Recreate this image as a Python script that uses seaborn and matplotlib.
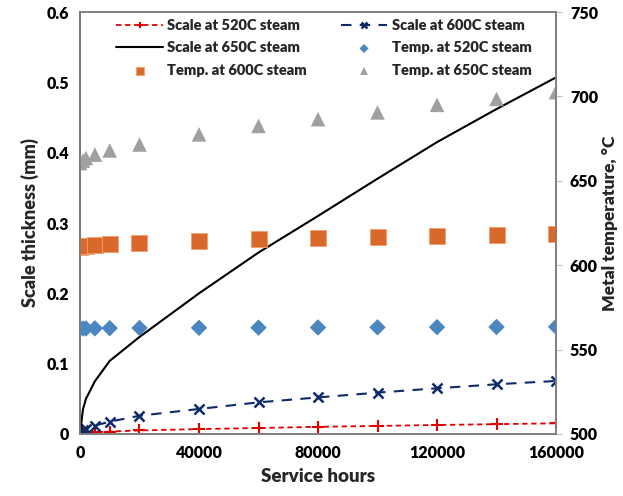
import matplotlib
matplotlib.use("Agg")
import matplotlib.pyplot as plt
import seaborn as sns
import pandas as pd

hours = [0, 1000, 2000, 5000, 10000, 20000, 40000, 60000, 80000, 100000, 120000, 140000, 160000]
scale_520 = [0, 0.001, 0.0015, 0.0025, 0.0035, 0.005, 0.007, 0.0085, 0.0102, 0.0115, 0.0128, 0.014, 0.0152]
scale_600 = [0, 0.005, 0.0075, 0.012, 0.0175, 0.026, 0.0356, 0.045, 0.052, 0.0588, 0.065, 0.0707, 0.0754]
scale_650 = [0, 0.035, 0.05, 0.075, 0.104, 0.138, 0.2, 0.258, 0.31, 0.363, 0.415, 0.462, 0.507]
temp_520 = [562.5, 562.5, 562.5, 562.6, 562.7, 562.8, 562.9, 563.0, 563.1, 563.2, 563.3, 563.4, 563.5]
temp_600 = [611, 611.3, 611.6, 612, 612.5, 613.2, 614.3, 615.4, 616.3, 617, 617.4, 617.8, 618.4]
temp_650 = [660.5, 662, 663.5, 665.5, 668, 671.5, 677.5, 682.5, 686.5, 690.5, 695, 698.5, 702.5]

x_ticks = [0, 40000, 80000, 120000, 160000]
y_ticks = [0, 0.1, 0.2, 0.3, 0.4, 0.5, 0.6]
y_tick_labels = ["0", "0.1", "0.2", "0.3", "0.4", "0.5", "0.6"]
t_ticks = [500, 550, 600, 650, 700, 750]

sns.set_style("white")
W = 800  # heavy weight, to match the heavy bold of the original
plt.rcParams['font.family'] = ['Lato', 'DejaVu Sans']
plt.rcParams['font.weight'] = W
plt.rcParams['axes.labelweight'] = W

df = pd.DataFrame({"hours": hours, "s520": scale_520, "s600": scale_600, "s650": scale_650,
                   "t520": temp_520, "t600": temp_600, "t650": temp_650})

fig = plt.figure(figsize=(6.23, 4.96), dpi=100)
ax = fig.add_axes([0.1284, 0.125, 0.7641, 0.8508])
ax2 = ax.twinx()

sns.lineplot(data=df, x="hours", y="s520", ax=ax, color="#E00000", linestyle=(0, (3, 2)), lw=1.3,
             marker="+", markersize=9, markeredgewidth=1.5, markeredgecolor="#E00000",
             sort=False, estimator=None, label="Scale at 520C steam")
sns.lineplot(data=df, x="hours", y="s600", ax=ax, color="#0D2A6B", linestyle=(0, (5, 4)), lw=1.5,
             marker="x", markersize=7, markeredgewidth=1.8, markeredgecolor="#0D2A6B",
             sort=False, estimator=None, label="Scale at 600C steam")
sns.lineplot(data=df, x="hours", y="s650", ax=ax, color="black", lw=1.5, sort=False, estimator=None,
             label="Scale at 650C steam")

sns.scatterplot(data=df, x="hours", y="t520", ax=ax2, color="#4A86C0", marker="D", s=70, edgecolor="none",
                label="Temp. at 520C steam")
sns.scatterplot(data=df, x="hours", y="t600", ax=ax2, color="#D9692A", marker="s", s=130, edgecolor="#F0A070",
                linewidth=0.6, label="Temp. at 600C steam")
sns.scatterplot(data=df, x="hours", y="t650", ax=ax2, color="#A0A0A0", marker="^", s=110, edgecolor="none",
                label="Temp. at 650C steam")

ax.set_xlim(0, 160000)
ax.set_ylim(0, 0.6)
ax2.set_ylim(500, 750)
ax.set_xticks(x_ticks)
ax.set_xticklabels([str(v) for v in x_ticks])
ax.set_yticks(y_ticks)
ax.set_yticklabels(y_tick_labels)
ax2.set_yticks(t_ticks)

for a in (ax, ax2):
    for sp in a.spines.values():
        sp.set_color("#7F7F7F")
        sp.set_linewidth(1.2)
    a.tick_params(labelsize=11.5, length=0, colors="black")
    for lab in a.get_xticklabels() + a.get_yticklabels():
        lab.set_fontweight(W)
ax2.tick_params(axis="y", length=4, color="#BFBFBF", width=0.8, direction="out", pad=6)
ax.tick_params(axis="x", pad=8)
ax.tick_params(axis="y", pad=8)
ax.spines["left"].set_color("#404040")

ax.set_xlabel("Service hours", fontsize=13.5, fontweight=W, labelpad=5)
ax.set_ylabel("Scale thickness (mm)", fontsize=13, fontweight=W, labelpad=5)
ax2.set_ylabel("Metal temperature, \u00b0C", fontsize=12.5, fontweight=W, labelpad=3)

h1, l1 = ax.get_legend_handles_labels()
h2, l2 = ax2.get_legend_handles_labels()
if ax.get_legend():
    ax.get_legend().remove()
if ax2.get_legend():
    ax2.get_legend().remove()
handles = [h1[0], h1[2], h2[1], h1[1], h2[0], h2[2]]
labels = [l1[0], l1[2], l2[1], l1[1], l2[0], l2[2]]
leg = ax2.legend(handles, labels, ncol=2, loc="upper left", bbox_to_anchor=(0.055, 1.008), frameon=False,
                 prop={"size": 10.5, "weight": W}, columnspacing=2.3, handlelength=3.2,
                 handletextpad=0.3, labelspacing=0.65, markerscale=0.55, borderaxespad=0.3)

fig.savefig("out.png", dpi=100)
